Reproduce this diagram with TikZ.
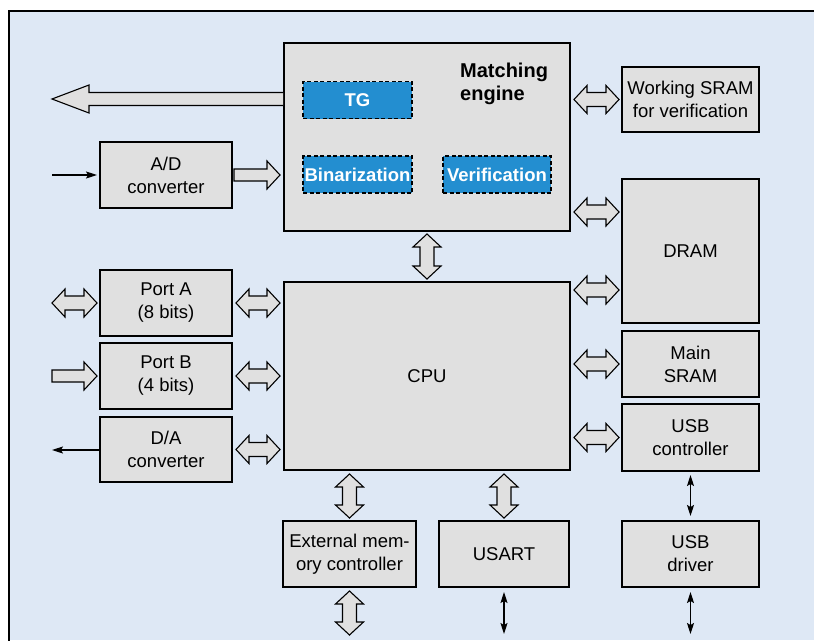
\documentclass[tikz,border=0pt]{standalone}
\usepackage{fontspec}
\setmainfont{Liberation Sans}
\usetikzlibrary{calc,arrows.meta}
\definecolor{bgblue}{RGB}{222,232,245}
\definecolor{boxgray}{RGB}{224,224,224}
\definecolor{subblue}{RGB}{35,142,208}
\tikzset{
  blk/.style={draw=black, line width=2pt, fill=boxgray, inner sep=0pt, align=center,
    font=\fontsize{18.5}{23}\selectfont},
  subblk/.style={draw=black, dash pattern=on 4pt off 2.5pt, line width=1.6pt, fill=subblue,
    text=white, inner sep=0pt, minimum width=109pt, minimum height=37pt,
    font=\bfseries\fontsize{18.5}{22}\selectfont},
  fatarrow/.style={draw=black, line width=1.1pt, fill=boxgray, line join=miter},
  thinarr/.style={line width=1.2pt, -{Stealth[length=11pt,width=7pt,inset=2pt]}},
  thindbl/.style={line width=1.2pt, {Stealth[length=11pt,width=7pt,inset=2pt]}-{Stealth[length=11pt,width=7pt,inset=2pt]}}
}
% horizontal double fat arrow: #1 left end, #2 right end
\newcommand\FatDH[2]{\path[fatarrow] let \p1=(#1), \p2=(#2) in
  (\x1,\y1) -- (\x1+13pt,\y1+14pt) -- (\x1+13pt,\y1+7pt) -- (\x2-13pt,\y1+7pt) -- (\x2-13pt,\y1+14pt)
  -- (\x2,\y1) -- (\x2-13pt,\y1-14pt) -- (\x2-13pt,\y1-7pt) -- (\x1+13pt,\y1-7pt) -- (\x1+13pt,\y1-14pt) -- cycle;}
% vertical double fat arrow: #1 top end, #2 bottom end
\newcommand\FatDV[2]{\path[fatarrow] let \p1=(#1), \p2=(#2) in
  (\x1,\y1) -- (\x1+14pt,\y1-13pt) -- (\x1+7pt,\y1-13pt) -- (\x1+7pt,\y2+13pt) -- (\x1+14pt,\y2+13pt)
  -- (\x1,\y2) -- (\x1-14pt,\y2+13pt) -- (\x1-7pt,\y2+13pt) -- (\x1-7pt,\y1-13pt) -- (\x1-14pt,\y1-13pt) -- cycle;}
% single fat arrow pointing right: #1 tail, #2 tip
\newcommand\FatR[2]{\path[fatarrow] let \p1=(#1), \p2=(#2) in
  (\x1,\y1+6pt) -- (\x2-13pt,\y1+6pt) -- (\x2-13pt,\y1+14pt) -- (\x2,\y1) -- (\x2-13pt,\y1-14pt)
  -- (\x2-13pt,\y1-6pt) -- (\x1,\y1-6pt) -- cycle;}
% big single fat arrow pointing left: #1 tail, #2 tip
\newcommand\FatL[2]{\path[fatarrow] let \p1=(#1), \p2=(#2) in
  (\x1,\y1+6.5pt) -- (\x2+37pt,\y1+6.5pt) -- (\x2+37pt,\y1+14pt) -- (\x2,\y1) -- (\x2+37pt,\y1-14pt)
  -- (\x2+37pt,\y1-6.5pt) -- (\x1,\y1-6.5pt);}
\begin{document}
\begin{tikzpicture}[x=1pt,y=-1pt]
\useasboundingbox (0,0) rectangle (814,640);
\fill[white] (0,0) rectangle (814,640);
\fill[bgblue] (9,11) rectangle (814,640);
\draw[line width=2.6pt] (9,642) -- (9,11) -- (816,11);

% blocks
\node[blk, minimum width=286pt, minimum height=188pt] (me) at (427,137) {};
\node[subblk] (tg) at (357.5,100) {TG};
\node[subblk] (bin) at (357.5,174.5) {Binarization};
\node[subblk, minimum width=108pt] (ver) at (497,174.5) {Verification};
\node[anchor=west, inner sep=0pt, align=left, font=\bfseries\fontsize{20}{23}\selectfont] (metitle) at (460,84) {Matching\\engine};

\node[blk, minimum width=132pt, minimum height=66pt] (ad) at (166,175) {A/D\\converter};
\node[blk, minimum width=132pt, minimum height=66pt] (pa) at (166,303) {Port A\\(8 bits)};
\node[blk, minimum width=132pt, minimum height=66pt] (pb) at (166,376) {Port B\\(4 bits)};
\node[blk, minimum width=132pt, minimum height=65pt] (da) at (166,449.5) {D/A\\converter};

\node[blk, minimum width=286pt, minimum height=188pt] (cpu) at (427,376) {CPU};

\node[blk, minimum width=137pt, minimum height=65pt] (ws) at (690.5,99.5) {Working SRAM\\for verification};
\node[blk, minimum width=137pt, minimum height=144pt] (dram) at (690.5,251) {DRAM};
\node[blk, minimum width=137pt, minimum height=66pt] (msram) at (690.5,364) {Main\\SRAM};
\node[blk, minimum width=137pt, minimum height=67pt] (usbc) at (690.5,437.5) {USB\\controller};
\node[blk, minimum width=137pt, minimum height=66pt] (usbd) at (690.5,554) {USB\\driver};

\node[blk, minimum width=133pt, minimum height=66pt] (ext) at (349.5,554) {External mem-\\ory controller};
\node[blk, minimum width=130pt, minimum height=66pt] (usart) at (504,554) {USART};

% free ends
\coordinate (outL) at (52,99);
\coordinate (inAD) at (52,175);
\coordinate (outPA) at (52,303);
\coordinate (inPB) at (52,376);
\coordinate (outDA) at (52,450);
\coordinate (extOut) at (349.5,635);
\coordinate (usartOut) at (504,634);
\coordinate (usbOut) at (690.5,634);

% left side
\FatL{me.west |- outL}{outL}
\FatR{$(ad.east)+(1,0)$}{$(me.west |- ad.east)+(-3,0)$}
\draw[thinarr] (inAD) -- ($(ad.west)+(-2,0)$);
\FatDH{outPA}{$(pa.west)+(-2,0)$}
\FatR{inPB}{$(pb.west)+(-2,0)$}
\draw[thinarr] (da.west |- outDA) -- (outDA);
\FatDH{$(pa.east)+(3,0)$}{$(cpu.west |- pa.east)+(-3,0)$}
\FatDH{$(pb.east)+(3,0)$}{$(cpu.west |- pb.east)+(-3,0)$}
\FatDH{$(da.east)+(3,0)$}{$(cpu.west |- da.east)+(-3,0)$}

% right side
\FatDH{$(me.east |- ws.west)+(3,0)$}{$(ws.west)+(-2,0)$}
\FatDH{$(me.east |- 0,212)+(3,0)$}{$(dram.west |- 0,212)+(-2,0)$}
\FatDH{$(cpu.east |- 0,290)+(3,0)$}{$(dram.west |- 0,290)+(-2,0)$}
\FatDH{$(cpu.east |- msram.west)+(3,0)$}{$(msram.west)+(-2,0)$}
\FatDH{$(cpu.east |- usbc.west)+(3,0)$}{$(usbc.west)+(-2,0)$}

% vertical
\FatDV{$(me.south)+(0,2)$}{$(cpu.north)+(0,-2)$}
\FatDV{$(cpu.south -| ext.north)+(0,3)$}{$(ext.north)+(0,-2)$}
\FatDV{$(cpu.south -| usart.north)+(0,3)$}{$(usart.north)+(0,-2)$}
\FatDV{$(ext.south)+(0,3)$}{extOut}
\draw[thindbl] ($(usart.south)+(0,4)$) -- (usartOut);
\draw[thindbl] ($(usbc.south)+(0,3)$) -- ($(usbd.north)+(0,-4)$);
\draw[thindbl] ($(usbd.south)+(0,4)$) -- (usbOut);
\end{tikzpicture}
\end{document}
